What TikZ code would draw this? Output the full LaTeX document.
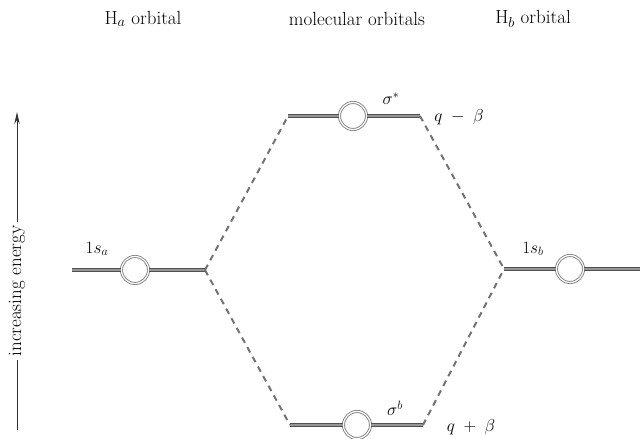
\documentclass[tikz,border=0pt]{standalone}
\usepackage{tikz}
\usetikzlibrary{arrows.meta}
\usetikzlibrary{positioning,calc}
\definecolor{levelgray}{RGB}{80,80,80}
\definecolor{ringgray}{RGB}{130,130,130}
\definecolor{arrowgray}{RGB}{50,50,50}

\begin{document}
\begin{tikzpicture}[x=1pt,y=-1pt,
    level/.style={draw=levelgray,double=levelgray!60,double distance=2pt,line width=0.9pt},
    orb/.style={circle,draw=ringgray,double=white,double distance=1.2pt,line width=0.9pt,
      fill=white,minimum size=27pt,inner sep=0pt},
    link/.style={draw=levelgray!80,line width=2pt,dash pattern=on 6pt off 5pt},
    txt/.style={font=\fontsize{19}{22}\selectfont},
    lab/.style={font=\fontsize{17}{20}\selectfont}]
  \useasboundingbox (0,0) rectangle (640,439);
  % column headings
  \node[txt] (hda) at (143,19) {H$_a$ orbital};
  \node[txt] (hdm) at (357,19) {molecular orbitals};
  \node[txt] (hdb) at (533,19) {H$_b$ orbital};
  % energy axis
  \node[txt,rotate=90,inner sep=3pt] (en) at (17,291) {increasing energy};
  \coordinate (enlo) at (17,430);
  \coordinate (enhi) at (17,112);
  \draw[arrowgray,line width=1pt] (enlo) -- (en.west);
  \draw[-{Stealth[length=12pt,width=5.5pt]},arrowgray,line width=1pt] (en.east) -- (enhi);
  % H_a level
  \coordinate (al) at (72,270);
  \coordinate (ar) at (205,270);
  \node[orb] (a) at (135,270) {};
  \draw[level] (al) -- (a) (a) -- (ar);
  \node[lab] (sa) at (97,249) {$1s_a$};
  % H_b level
  \coordinate (bl) at (504,269);
  \coordinate (br) at (640,269);
  \node[orb] (b) at (570,269) {};
  \draw[level] (bl) -- (b) (b) -- (br);
  \node[lab] (sb) at (533,249) {$1s_b$};
  % antibonding level
  \coordinate (tl) at (288,116);
  \coordinate (tr) at (420,116);
  \node[orb] (t) at (353,116) {};
  \draw[level] (tl) -- (t) (t) -- (tr);
  \node[lab] (st) at (391,99) {$\sigma^*$};
  \node[lab] (et) at (459,117) {$q\;-\;\beta$};
  % bonding level
  \coordinate (ul) at (290,425);
  \coordinate (ur) at (423,425);
  \node[orb] (u) at (357,425) {};
  \draw[level] (ul) -- (u) (u) -- (ur);
  \node[lab] (su) at (395,408) {$\sigma^b$};
  \node[lab] (eu) at (471,427) {$q\;+\;\beta$};
  % correlation lines
  \draw[link] (ar) -- (tl);
  \draw[link] (ar) -- (ul);
  \draw[link] (tr) -- (bl);
  \draw[link] (ur) -- (bl);
\end{tikzpicture}
\end{document}
